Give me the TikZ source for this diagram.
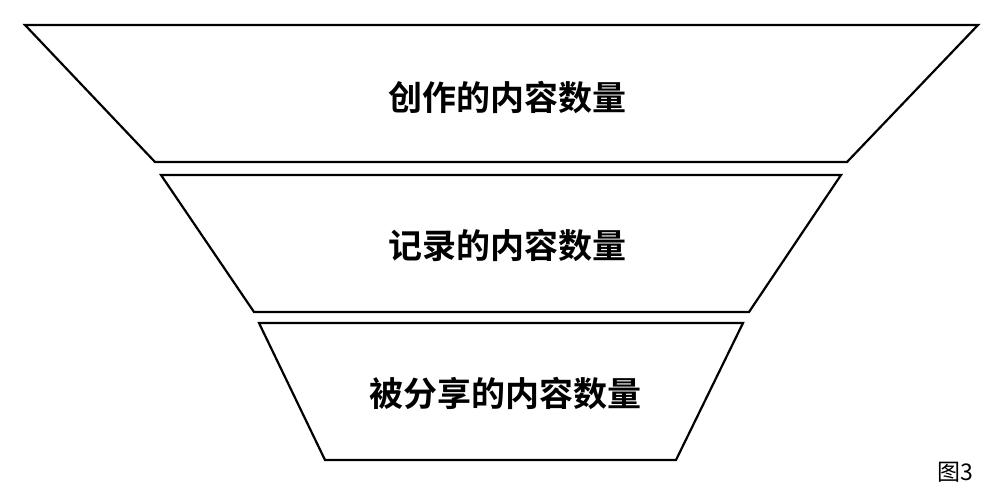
\documentclass[tikz,border=0pt]{standalone}
\usepackage{fontspec}
\newfontfamily\cjk{Noto Sans CJK SC}
\newfontfamily\cjkb{Noto Sans CJK SC Bold}
\begin{document}
\begin{tikzpicture}[x=1pt,y=-1pt,
  funnel/.style={draw=black,line width=2.2pt,line join=miter,fill=white},
  lab/.style={font=\cjkb\fontsize{34}{34}\selectfont,text=black,inner sep=0pt},
  fig/.style={font=\cjk\fontsize{23}{23}\selectfont,text=black,inner sep=0pt}]
\useasboundingbox (0,0) rectangle (1000,503);
\fill[white] (0,0) rectangle (1000,503);
\draw[funnel] (25,25) -- (978,25) -- (847,162) -- (155,162) -- cycle;
\draw[funnel] (161,175) -- (841,175) -- (749,312) -- (254,312) -- cycle;
\draw[funnel] (259,323) -- (743,323) -- (676,460) -- (325,460) -- cycle;
\node[lab] (t1) at (507,97) {创作的内容数量};
\node[lab] (t2) at (507,245) {记录的内容数量};
\node[lab] (t3) at (505,393) {被分享的内容数量};
\node[fig] (f) at (955,472) {图3};
\end{tikzpicture}
\end{document}
